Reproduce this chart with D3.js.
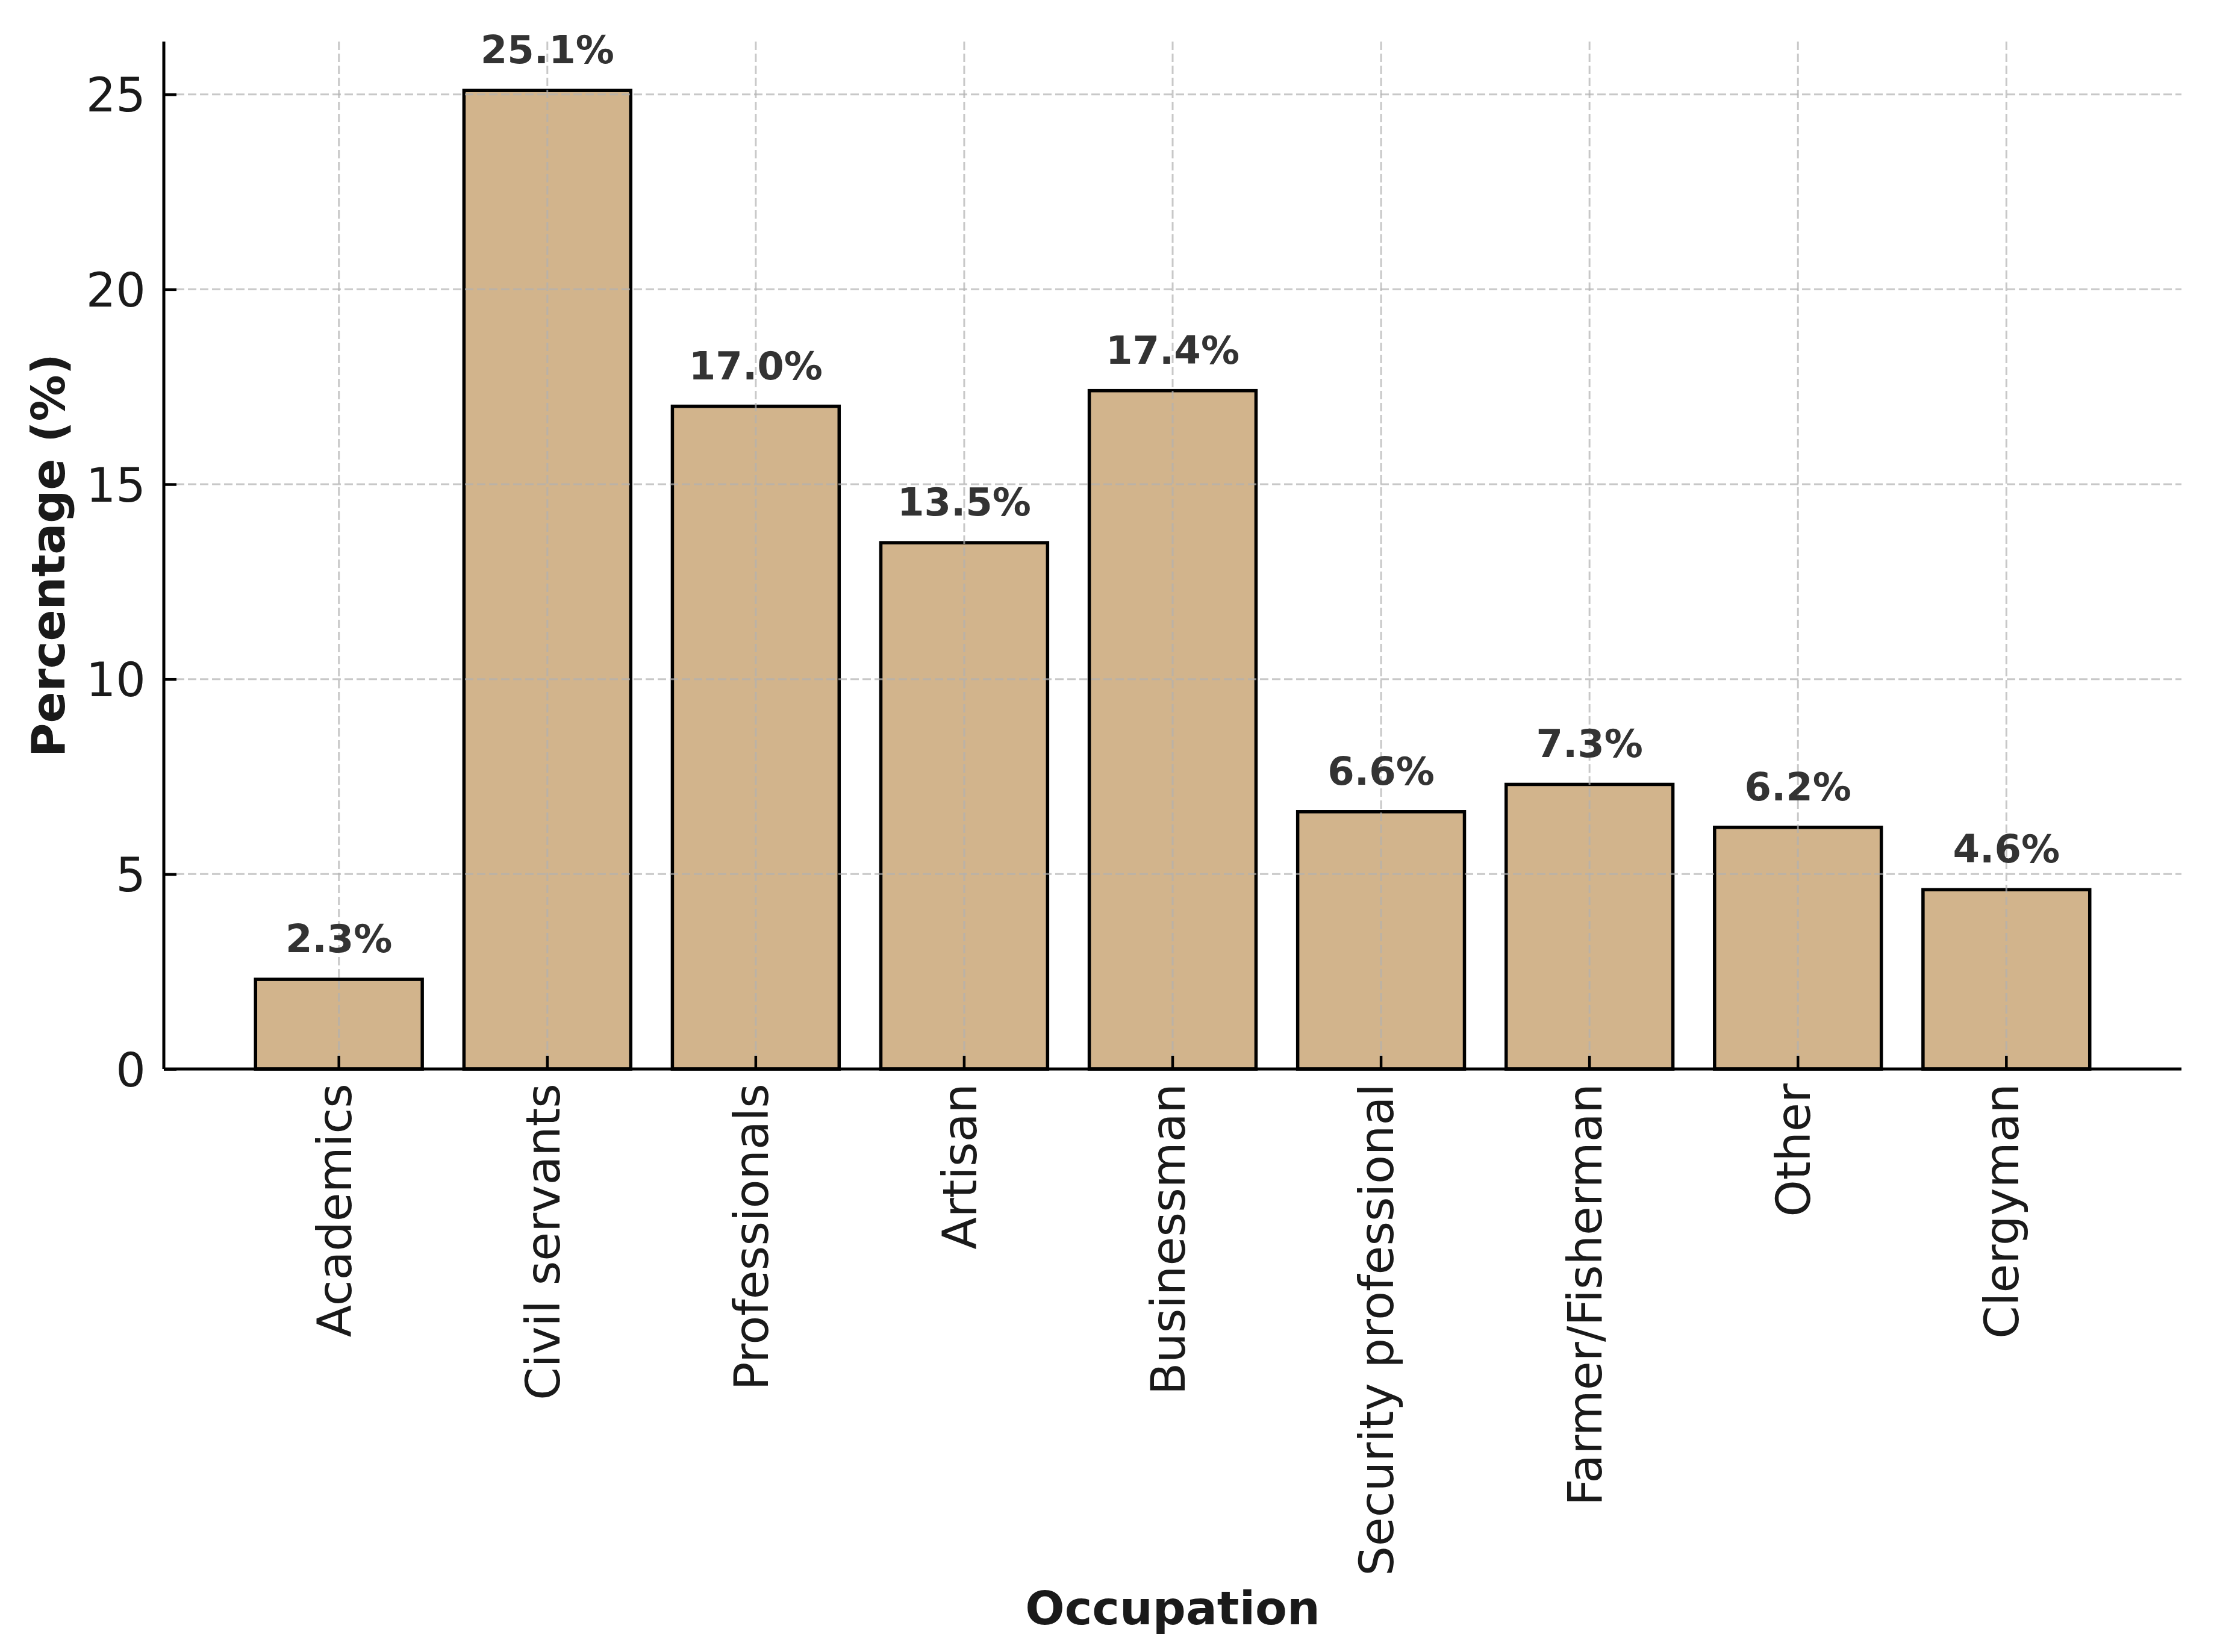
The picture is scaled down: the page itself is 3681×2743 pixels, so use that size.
<!DOCTYPE html>
<html>
<head>
<meta charset="utf-8">
<script src="https://cdn.jsdelivr.net/npm/d3@7"></script>
<style>
  html, body { margin: 0; padding: 0; background: #ffffff; }
  svg { display: block; }
</style>
</head>
<body>
<script>
const categories = ["Academics", "Civil servants", "Professionals", "Artisan", "Businessman",
  "Security professional", "Farmer/Fisherman", "Other", "Clergyman"];
const values = [2.3, 25.1, 17.0, 13.5, 17.4, 6.6, 7.3, 6.2, 4.6];
const yTicks = [0, 5, 10, 15, 20, 25];
const xTitle = "Occupation";
const yTitle = "Percentage (%)";

const W = 3681, H = 2743;
const m = { left: 272, right: 3622, top: 69, bottom: 1775 };
const font = "'DejaVu Sans', sans-serif";

const svg = d3.select("body").append("svg").attr("width", W).attr("height", H);
svg.append("rect").attr("width", W).attr("height", H).attr("fill", "#ffffff");

const x = d3.scaleBand().domain(categories).range([m.left, m.right])
  .paddingInner(0.2).paddingOuter(0.44).align(0.5);
const y = d3.scaleLinear().domain([0, d3.max(values) * 1.05]).range([m.bottom, m.top]);

const data = categories.map((c, i) => ({ c, v: values[i] }));

// bars
svg.append("g").selectAll("rect").data(data).join("rect")
  .attr("x", d => x(d.c))
  .attr("y", d => y(d.v))
  .attr("width", x.bandwidth())
  .attr("height", d => y(0) - y(d.v))
  .attr("fill", "#D2B48C")
  .attr("stroke", "#000")
  .attr("stroke-width", 5.5);

// grid (above bars, like matplotlib default)
const grid = svg.append("g").attr("stroke", "#b0b0b0").attr("stroke-opacity", 0.7)
  .attr("stroke-width", 3).attr("stroke-dasharray", "14,6");
grid.selectAll("line.h").data(yTicks).join("line").attr("class", "h")
  .attr("x1", m.left).attr("x2", m.right)
  .attr("y1", d => y(d)).attr("y2", d => y(d));
grid.selectAll("line.v").data(categories).join("line").attr("class", "v")
  .attr("x1", d => x(d) + x.bandwidth() / 2).attr("x2", d => x(d) + x.bandwidth() / 2)
  .attr("y1", m.top).attr("y2", m.bottom);

// y axis
const gy = svg.append("g").attr("transform", `translate(${m.left},0)`)
  .call(d3.axisLeft(y).tickValues(yTicks).tickFormat(d3.format("d"))
    .tickSize(-21).tickSizeOuter(0).tickPadding(30));
gy.select(".domain").attr("stroke", "#000").attr("stroke-width", 5)
  .attr("d", `M0,${m.bottom}V${m.top}`);
gy.selectAll(".tick line").attr("stroke", "#000").attr("stroke-width", 4.5);
gy.selectAll(".tick text").attr("font-family", font).attr("font-size", 78)
  .attr("fill", "#1a1a1a").attr("dy", "0.36em");

// x axis
const gx = svg.append("g").attr("transform", `translate(0,${m.bottom})`)
  .call(d3.axisBottom(x).tickSize(-22).tickSizeOuter(0).tickPadding(0));
gx.select(".domain").attr("stroke", "#000").attr("stroke-width", 5)
  .attr("d", `M${m.left},0H${m.right}`);
gx.selectAll(".tick line").attr("stroke", "#000").attr("stroke-width", 4.5);
gx.selectAll(".tick text").attr("font-family", font).attr("font-size", 78)
  .attr("fill", "#1a1a1a")
  .attr("text-anchor", "end")
  .attr("transform", "rotate(-90)")
  .attr("x", -24).attr("y", 20).attr("dy", 0);

// value labels
svg.append("g").selectAll("text").data(data).join("text")
  .attr("x", d => x(d.c) + x.bandwidth() / 2)
  .attr("y", d => y(d.v) - 45)
  .attr("text-anchor", "middle")
  .attr("font-family", font).attr("font-size", 64).attr("font-weight", "bold")
  .attr("fill", "#333333")
  .text(d => d.v.toFixed(1) + "%");

// titles
svg.append("text").attr("x", (m.left + m.right) / 2).attr("y", 2697)
  .attr("text-anchor", "middle").attr("font-family", font).attr("font-size", 77)
  .attr("font-weight", "bold").attr("fill", "#1a1a1a").text(xTitle);
svg.append("text")
  .attr("transform", `translate(107,${(m.top + m.bottom) / 2}) rotate(-90)`)
  .attr("text-anchor", "middle").attr("font-family", font).attr("font-size", 77)
  .attr("font-weight", "bold").attr("fill", "#1a1a1a").text(yTitle);
</script>
</body>
</html>
